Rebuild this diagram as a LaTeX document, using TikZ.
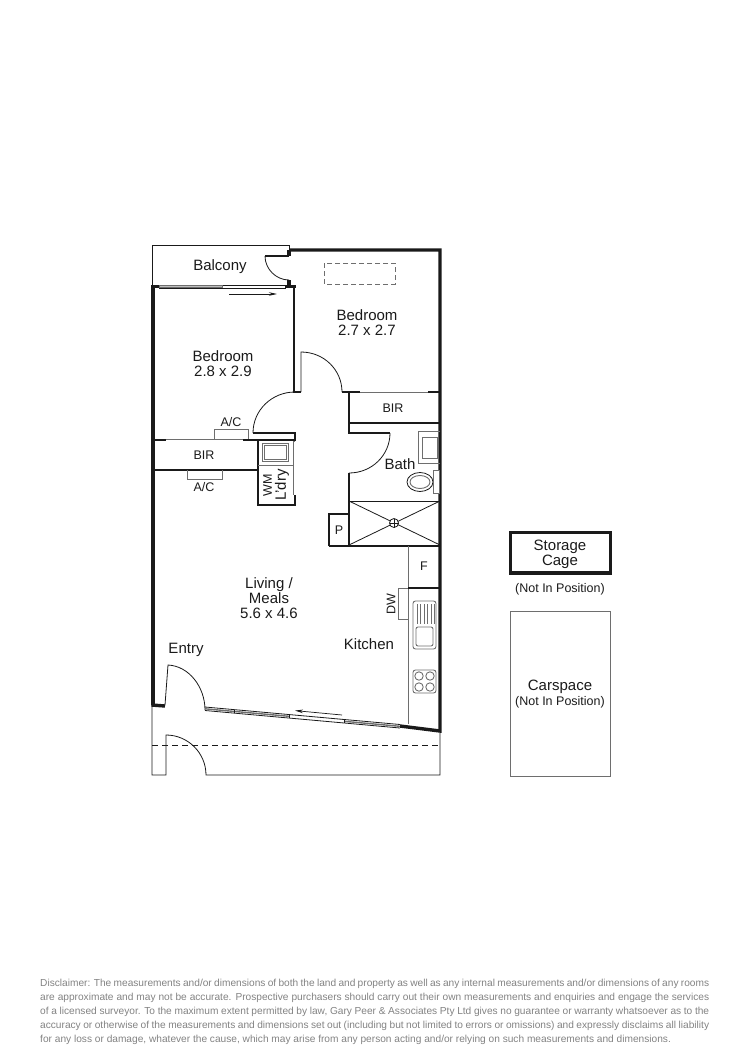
\documentclass[tikz,border=0pt]{standalone}
\usepackage{fontspec}
\setmainfont{Liberation Sans}
\usetikzlibrary{arrows.meta}
\definecolor{ink}{HTML}{1A1A1A}
\definecolor{greyline}{HTML}{6E6E6E}
\definecolor{disc}{HTML}{828282}
\newcommand{\dline}[1]{\makebox[669pt][s]{#1}}
\tikzset{
  wall/.style={draw=ink,line width=3.4pt},
  midwall/.style={draw=ink,line width=2pt},
  fine/.style={draw=ink,line width=0.8pt},
  soft/.style={draw=greyline,line width=0.9pt},
  room/.style={font=\fontsize{15}{15}\selectfont,text=ink,inner sep=0pt,align=center},
  small/.style={font=\fontsize{12.5}{15}\selectfont,text=ink,inner sep=0pt,align=center},
  slide/.style={-{Stealth[length=8pt,width=3.5pt]},draw=ink,line width=0.7pt},
}
\begin{document}
\begin{tikzpicture}[x=1pt,y=-1pt]
\useasboundingbox (0,0) rectangle (750,1060);
% balcony and lower outline
\draw[fine] (152,286) -- (152,245) -- (289,245) -- (289,251);
\draw[fine] (152,705) -- (152,775) -- (166,775) -- (166,735)
  .. controls (188,735) and (206,753) .. (206,775) -- (440,775) -- (440,730);
\draw[fine,dashed,dash pattern=on 6pt off 4pt] (152,745) -- (440,745);
% outer walls
\draw[wall,line cap=butt,line join=miter] (289,250) -- (440,250) -- (440,731) -- (400,726);
\draw[wall] (153,285) -- (153,705);
\draw[wall] (151.5,705) -- (165,706);
\draw[wall] (151.5,286.5) -- (159,286.5);
\draw[wall] (285,286.5) -- (295.5,286.5);
\draw[wall] (289,250) -- (289,256);
\draw[wall] (289,280) -- (289,286);
% balcony door and slider
\draw[midwall] (265,256) -- (289,256);
\draw[fine] (265,256) .. controls (265,269) and (276,280) .. (289,280);
\draw[fine,fill=white] (159,285) rectangle (285,288.5);
\draw[soft,fill=greyline!45] (159,285.6) rectangle (222,287.9);
\draw[slide] (229,294) -- (277,294);
% bedroom walls
\draw[midwall] (294,286) -- (294,392);
\draw[midwall] (293,392) -- (301,392);
\draw[fine] (301,392) -- (301,352) .. controls (324,352) and (342,370) .. (342,392);
\draw[fine] (295,392) .. controls (272,392) and (253,410) .. (253,433);
\draw[midwall] (342,392) -- (360,392);
\draw[soft] (360,392) -- (428,392);
\draw[midwall] (428,392) -- (440,392);
\draw[midwall] (349,392) -- (349,433);
\draw[midwall] (349,423) -- (440,423);
\draw[midwall] (348,433) -- (390,433);
\draw[fine] (390,433) .. controls (390,455) and (372,473) .. (349,473);
\draw[midwall] (349,473) -- (349,546);
% dashed skylight
\draw[soft,dashed,dash pattern=on 5pt off 3pt] (324,263) rectangle (395,284);
% robe and laundry
\draw[midwall] (253,433) -- (295,433) -- (295,441);
\draw[midwall] (153,439.5) -- (166,439.5);
\draw[soft] (166,439.5) -- (243,439.5);
\draw[midwall] (243,439.5) -- (295,439.5);
\draw[soft] (214,439) -- (214,429) -- (248,429) -- (248,439);
\draw[midwall] (153,470) -- (258,470);
\draw[soft] (187,470) -- (187,479) -- (222,479) -- (222,470);
\draw[midwall] (258,439) -- (258,506);
\draw[midwall] (257,505) -- (295,505) -- (295,495);
\draw[soft] (295,441) -- (293,441) -- (293,495);
\draw[soft] (258,465) -- (293,465);
\draw[soft] (262,443) rectangle (288,461);
\draw[soft] (264,445) rectangle (286,459);
% bathroom
\draw[soft] (440,431) -- (418,431) -- (418,463) -- (440,463);
\draw[soft] (422,437) rectangle (437,458);
\draw[fine,fill=white] (420,482) ellipse [x radius=13,y radius=9.5];
\draw[soft] (420,482) ellipse [x radius=10,y radius=6.5];
\draw[soft,fill=white] (433,470) rectangle (439,493);
\draw[fine] (349,501) -- (440,501);
\draw[fine] (349,501) -- (440,545) (349,545) -- (440,501);
\draw[fine,fill=white] (394,523) circle (4.5);
\draw[fine] (389.5,523) -- (398.5,523) (394,518.5) -- (394,527.5);
% pantry
\draw[midwall] (329,545.5) -- (440,545.5);
\draw[midwall] (329,546) -- (329,514) -- (349,514);
% kitchen
\draw[soft] (408,546) -- (408,724);
\draw[midwall] (408,588) -- (440,588);
\draw[soft] (408,588) -- (398,588) -- (398,619) -- (408,619);
\draw[soft,rounded corners=2.5pt] (413,601) rectangle (436,649);
\draw[soft,rounded corners=2pt] (416,627) rectangle (433,646);
\foreach \xx in {417,420.5,424,427.5,431,434}{\draw[soft,line width=0.6pt] (\xx,604) -- (\xx,624);}
\draw[soft,rounded corners=2.5pt] (413,670) rectangle (436,693);
\foreach \xx/\yy in {419/676,430/676,419/687,430/687}{\draw[soft] (\xx,\yy) circle (4.2);}
% entry door and front slider
\draw[fine] (165,705) -- (168,665) .. controls (189,666) and (205,687) .. (205,710);
\draw[fine] (205,707) -- (400,724.5) (205,710.5) -- (400,728);
\draw[soft,line width=1.4pt] (205,708.8) -- (234,711.4) (234,711.4) -- (289,716.3) (344,721.3) -- (400,726.3);
\draw[fine] (234,709.6) -- (234,713.1) (289,714.5) -- (289,718) (344,719.5) -- (344,723);
\draw[slide] (342,715) -- (295,710.6);
% storage and carspace
\draw[wall] (510.5,532.5) rectangle (610.5,573);
\draw[soft] (510,611) rectangle (610,776);
% labels
\node[room] (balc) at (220,266.5) {Balcony};
\node[room] (bedA) at (367,323) {Bedroom\\2.7 x 2.7};
\node[room] (bedB) at (223,363.5) {Bedroom\\2.8 x 2.9};
\node[small] (birA) at (393,408.5) {BIR};
\node[small] (birB) at (204,455) {BIR};
\node[small] (acA) at (231,422) {A/C};
\node[small] (acB) at (204,487) {A/C};
\node[room] (bath) at (400,464) {Bath};
\node[small,rotate=90] (wm) at (267.5,485) {WM};
\node[room,rotate=90] (ldry) at (282,485) {L'dry};
\node[small] (pan) at (339,530) {P};
\node[small] (frg) at (424,566.5) {F};
\node[small,rotate=90] (dw) at (391,604) {DW};
\node[room] (liv) at (269,598.5) {Living /\\Meals\\5.6 x 4.6};
\node[room] (ent) at (186,649.5) {Entry};
\node[room] (kit) at (369,644.5) {Kitchen};
\node[room] (sto) at (560,554) {Storage\\Cage};
\node[small] (np1) at (560,589) {(Not In Position)};
\node[room] (car) at (560,686.5) {Carspace};
\node[small] (np2) at (560,702) {(Not In Position)};
\node[anchor=north west,inner sep=0pt,align=left,text=disc,font=\fontsize{10.15}{14.2}\selectfont] (disc) at (40,978.5) {%
\dline{Disclaimer: The measurements and/or dimensions of both the land and property as well as any internal measurements and/or dimensions of any rooms}\\
\dline{are approximate and may not be accurate. Prospective purchasers should carry out their own measurements and enquiries and engage the services}\\
\dline{of a licensed surveyor. To the maximum extent permitted by law, Gary Peer \& Associates Pty Ltd gives no guarantee or warranty whatsoever as to the}\\
\dline{accuracy or otherwise of the measurements and dimensions set out (including but not limited to errors or omissions) and expressly disclaims all liability}\\
for any loss or damage, whatever the cause, which may arise from any person acting and/or relying on such measurements and dimensions.};
\end{tikzpicture}
\end{document}
